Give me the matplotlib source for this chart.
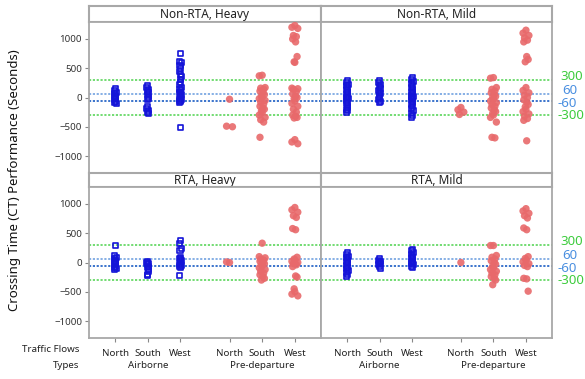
import numpy as np
import matplotlib
matplotlib.use("Agg")
import matplotlib.pyplot as plt

plt.rcParams["font.family"] = ["Noto Sans", "DejaVu Sans"]

W, H = 585, 379

FLOWS = ["North", "South", "West"]
TYPES = ["Airborne", "Pre-departure"]
XPOS = [0, 1, 2, 3.5, 4.5, 5.5]
YTICKS = [-1000, -500, 0, 500, 1000]

# CT performance in seconds, one list per flow:
# airborne north/south/west, then pre-departure north/south/west
nonrta_heavy = [
    [150, 120, 90, 60, 40, 20, 0, -20, -40, -60, -80, -100],
    [200, 170, 140, 110, 80, 50, 20, -10, -40, -160, -190, -220, -250, -280],
    [750, 620, 590, 540, 490, 450, 400, 360, 310, 260, 220, 170, 130, 110,
     90, 70, 50, 30, 10, -10, -30, -50, -70, -90, -510],
    [-30, -490, -500],
    [380, 370, 170, 160, 140, 110, 80, 50, 20, 0, -20, -50, -80, -110,
     -150, -180, -200, -230, -260, -300, -340, -380, -420, -680],
    [1230, 1200, 1180, 1060, 1040, 1000, 950, 700, 610, 600, 160, 150, 140,
     100, 60, 20, 0, -20, -60, -100, -150, -200, -250, -300, -320, -340,
     -350, -720, -760, -790],
]
nonrta_mild = [
    [290, 260, 230, 200, 170, 140, 110, 80, 50, 20, 0, -20, -50, -80, -110,
     -140, -170, -200, -230, -260],
    [290, 260, 220, 180, 150, 120, 90, 60, 30, 0, -30, -60, -90],
    [340, 310, 280, 240, 200, 170, 140, 110, 80, 60, 40, 20, 0, -20, -40,
     -60, -90, -120, -150, -190, -230, -270, -310, -340],
    [-170, -210, -250, -290],
    [340, 330, 170, 140, 110, 80, 50, 20, 0, -30, -60, -90, -120, -150,
     -180, -210, -240, -270, -300, -340, -420, -680, -690],
    [1150, 1100, 1060, 1020, 980, 950, 700, 650, 610, 170, 120, 80, 40, 0,
     -40, -80, -120, -160, -200, -240, -280, -320, -360, -390, -740],
]
rta_heavy = [
    [290, 120, 80, 60, 40, 20, 0, -20, -40, -60, -80, -100, -120],
    [20, 0, -20, -40, -60, -90, -120, -160, -200, -220],
    [370, 330, 240, 210, 90, 70, 50, 30, 10, -10, -30, -50, -70, -90, -220],
    [0, 10],
    [330, 100, 80, 60, 40, 20, 0, -20, -40, -60, -90, -120, -150, -180,
     -210, -240, -270, -300],
    [940, 900, 860, 800, 770, 580, 560, 90, 60, 40, 20, 0, -20, -40, -70,
     -230, -250, -450, -500, -540, -570],
]
rta_mild = [
    [170, 140, 110, 80, 50, 20, 0, -20, -50, -80, -110, -140, -170, -200, -240],
    [70, 40, 20, 0, -20, -40, -70, -100],
    [230, 200, 170, 140, 110, 80, 60, 40, 20, 0, -20, -40, -60, -90],
    [0],
    [290, 290, 120, 90, 60, 30, 0, -30, -60, -90, -120, -150, -180, -210,
     -240, -270, -300, -380],
    [920, 880, 840, 800, 760, 590, 560, 100, 70, 40, 10, -20, -50, -70,
     -270, -280, -490],
]

# tolerance bands: (value, line colour, label colour, label x shift, label y shift)
REF_LINES = [
    (300, "#5bd65b", "#3dcc3d", 3, 3),
    (60, "#72a2e0", "#4a8fe0", 5, 3),
    (-60, "#1a5cc4", "#4a8fe0", 0, -2),
    (-300, "#5bd65b", "#3dcc3d", 0, 0),
]

AIR_COLOR = "#1414d8"
PRE_COLOR = "#e8696b"
FRAME = "#a8a8a8"
JITTER = np.array([0, -1, 1, -0.5, 0.5, -0.75, 0.25, 0.75, -0.25])


def rect(x0, y0, x1, y1):
    return [x0 / W, 1 - y1 / H, (x1 - x0) / W, (y1 - y0) / H]


def jitter(n, width):
    return JITTER[np.arange(n) % len(JITTER)] * width


fig = plt.figure(figsize=(W / 100, H / 100), dpi=100)

panels = [
    ("Non-RTA, Heavy", nonrta_heavy, 89, 321, 6, 22, 173),
    ("Non-RTA, Mild", nonrta_mild, 321, 552, 6, 22, 173),
    ("RTA, Heavy", rta_heavy, 89, 321, 173, 187, 338),
    ("RTA, Mild", rta_mild, 321, 552, 173, 187, 338),
]

for k, (title, groups, x0, x1, s0, y0, y1) in enumerate(panels):
    left = k % 2 == 0
    bottom = k >= 2

    # strip header
    sax = fig.add_axes(rect(x0, s0, x1, y0))
    sax.set_xticks([])
    sax.set_yticks([])
    for sp in sax.spines.values():
        sp.set_color(FRAME)
        sp.set_linewidth(1.5)
    sax.text(0.5, 0.45, title, ha="center", va="center", fontsize=8.5,
             color="#222222", transform=sax.transAxes)

    ax = fig.add_axes(rect(x0, y0, x1, y1))
    ax.set_xlim(-0.8, 6.3)
    ax.set_ylim(-1290, 1290)
    for sp in ax.spines.values():
        sp.set_color(FRAME)
        sp.set_linewidth(1.3)

    for val, lc, tc, dx, dy in REF_LINES:
        ax.axhline(val, color=lc, lw=1.2, ls=(0, (1.3, 1.0)), zorder=1)

    for i, vals in enumerate(groups):
        vals = np.asarray(vals, dtype=float)
        if i < 3:
            xs = XPOS[i] + jitter(len(vals), 0.03)
            ax.scatter(xs, vals, marker="s", s=13, facecolors="none",
                       edgecolors=AIR_COLOR, linewidths=1.2, zorder=3)
        else:
            xs = XPOS[i] + jitter(len(vals), 0.09)
            ax.scatter(xs, vals, marker="o", s=28, color=PRE_COLOR,
                       edgecolors="none", alpha=0.9, zorder=3)

    if left:
        ax.set_yticks(YTICKS)
        ax.tick_params(axis="y", length=3, width=0.8, color="#888888",
                       labelsize=7, labelcolor="#333333", pad=2)
        for lb in ax.get_yticklabels():
            lb.set_fontweight("semibold")
    else:
        ax.set_yticks([])
        for val, lc, tc, dx, dy in REF_LINES:
            ax.annotate(str(val), xy=(1, val), xycoords=("axes fraction", "data"),
                        xytext=(5 + dx, dy), textcoords="offset pixels",
                        ha="left", va="center", fontsize=9.5, color=tc,
                        annotation_clip=False)

    if bottom:
        ax.set_xticks(XPOS)
        ax.set_xticklabels(FLOWS * 2)
        ax.tick_params(axis="x", length=3, width=0.8, color="#888888",
                       labelsize=7, labelcolor="#222222", pad=5)
        for lb in ax.get_xticklabels():
            lb.set_fontweight("semibold")
        for j, name in enumerate(TYPES):
            ax.annotate(name, xy=(XPOS[3 * j + 1], 0),
                        xycoords=("data", "axes fraction"),
                        xytext=(0, -28), textcoords="offset pixels",
                        ha="center", va="center", fontsize=7,
                        fontweight="semibold", color="#222222",
                        annotation_clip=False)
    else:
        ax.set_xticks([])

fig.text(79 / W, 1 - 349 / H, "Traffic Flows", ha="right", va="center",
         fontsize=7, fontweight="semibold", color="#222222")
fig.text(79 / W, 1 - 366 / H, "Types", ha="right", va="center",
         fontsize=7, fontweight="semibold", color="#222222")
fig.text(15 / W, 1 - 180 / H, "Crossing Time (CT) Performance (Seconds)",
         rotation=90, ha="center", va="center", fontsize=9.5, color="#111111")

fig.savefig("out.png", dpi=100)
